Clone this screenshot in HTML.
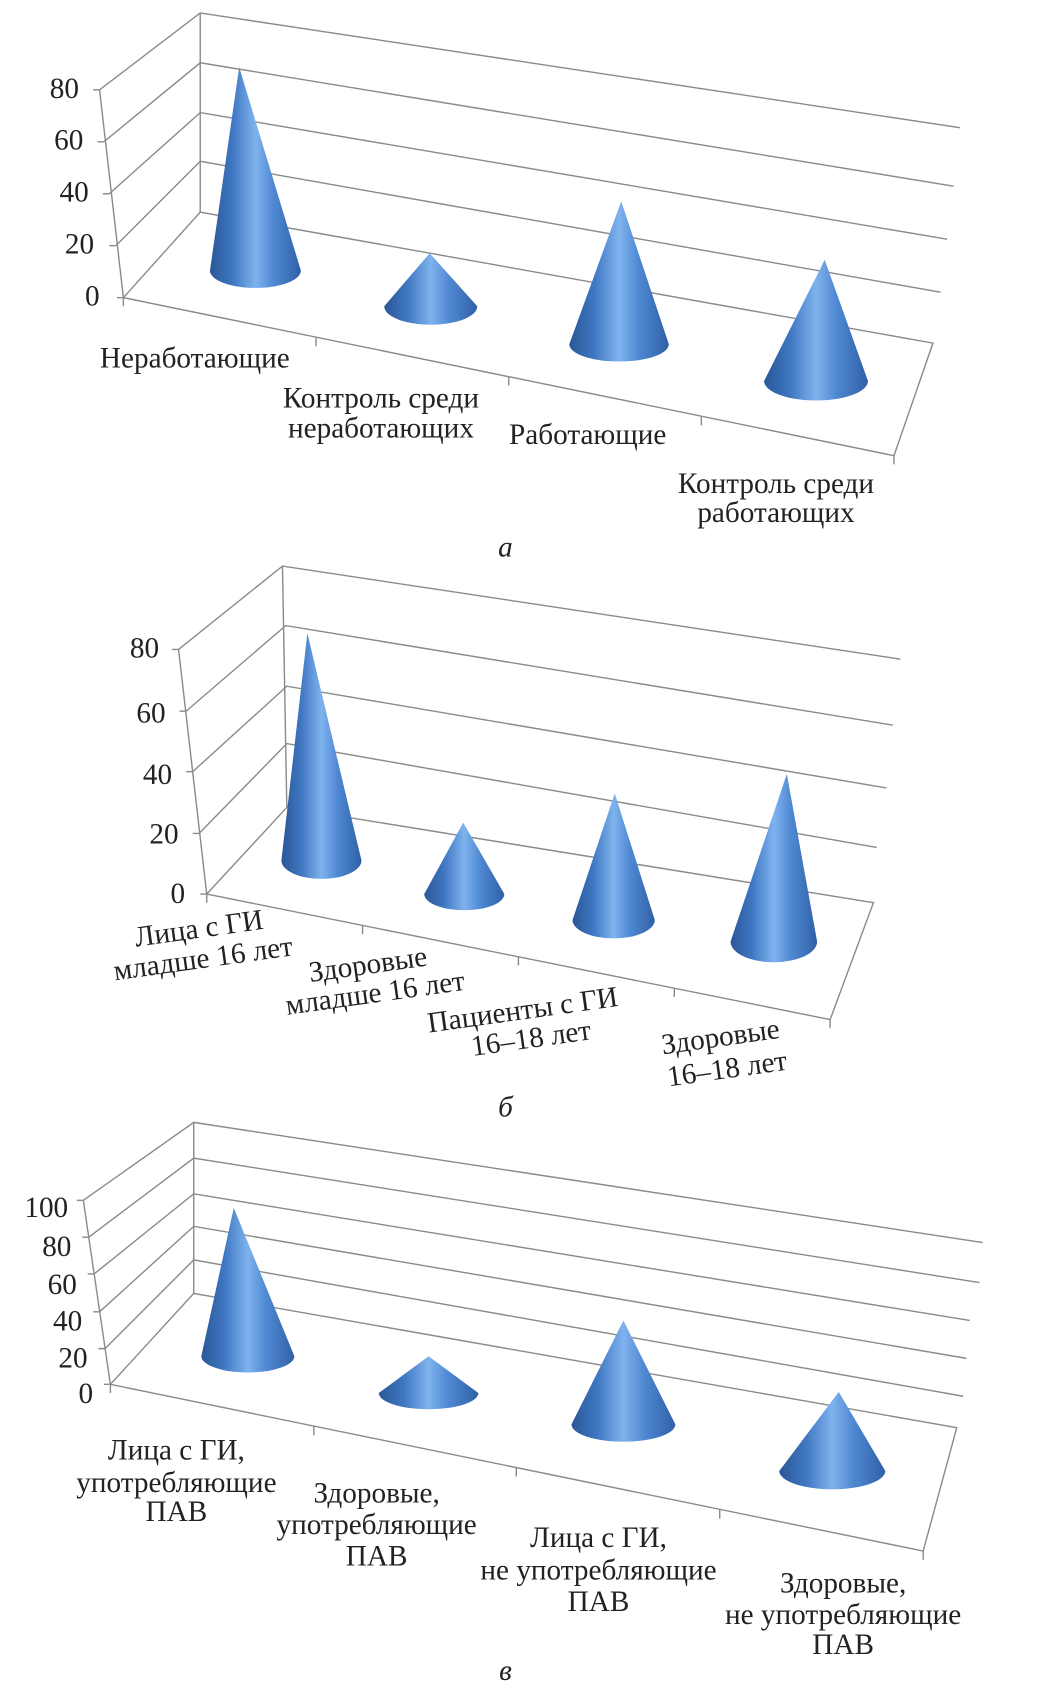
<!DOCTYPE html>
<html><head><meta charset="utf-8"><style>html,body{margin:0;padding:0;background:#fff}svg{display:block}</style></head>
<body>
<svg width="1039" height="1682" viewBox="0 0 960 1554" preserveAspectRatio="none" xmlns="http://www.w3.org/2000/svg">
<defs>
<linearGradient id="g" x1="0" y1="0" x2="1" y2="0">
<stop offset="0" stop-color="#2a5797"/><stop offset="0.25" stop-color="#3f77c2"/><stop offset="0.5" stop-color="#7fb3ee"/><stop offset="0.7" stop-color="#4f88d2"/><stop offset="1" stop-color="#2f60a6"/>
</linearGradient>
</defs>
<g stroke="#8a8a8a" stroke-width="1.3" fill="none">
<line x1="92" y1="83" x2="114" y2="275"/>
<line x1="185" y1="12" x2="185" y2="196"/>
<path d="M92 83 L185 12 L887 118 M96 131 L185 58 L881 172 M101 179 L185 104 L875 221 M107 227 L185 149 L869 270 M114 275 L185 196 L862 317 L826 421 L114 275"/>
<path d="M86 83h6 M90 131h6 M95 179h6 M101 227h6 M108 275h6"/>
<path d="M114 275v8 M292 312v8 M470 348v8 M648 385v8 M826 421v8"/>
<line x1="165" y1="600" x2="191" y2="826"/>
<line x1="261" y1="523" x2="265" y2="746"/>
<path d="M165 600 L261 523 L832 609 M172 657 L264 578 L825 670 M178 713 L265 634 L819 728 M184 770 L265 687 L810 783 M191 826 L265 746 L807 834 L767 942 L191 826"/>
<path d="M159 600h6 M166 657h6 M172 713h6 M178 770h6 M185 826h6"/>
<path d="M191 826v8 M335 855v8 M479 884v8 M623 913v8 M767 942v8"/>
<line x1="77" y1="1109" x2="102" y2="1279"/>
<line x1="179" y1="1037" x2="179" y2="1195"/>
<path d="M77 1109 L179 1037 L908 1148 M82 1143 L179 1070 L905 1185 M87 1177 L179 1103 L896 1220 M92 1212 L179 1133 L893 1255 M97 1246 L179 1164 L890 1290 M102 1279 L179 1195 L884 1319 L853 1433 L102 1279"/>
<path d="M71 1109h6 M76 1143h6 M81 1177h6 M86 1212h6 M91 1246h6 M96 1279h6"/>
<path d="M102 1279v8 M290 1318v8 M477 1356v8 M665 1395v8 M853 1433v8"/>
</g>
<g fill="url(#g)">
<path d="M194 250 A42 16 0 0 0 278 250 L221 62 Z"/>
<path d="M355 283 A43 17 0 0 0 441 283 L397 234 Z"/>
<path d="M526 318 A46 16 0 0 0 618 318 L574 186 Z"/>
<path d="M706 352 A48 18 0 0 0 802 352 L762 240 Z"/>
<path d="M260 795 A37 17 0 0 0 334 795 L284 585 Z"/>
<path d="M392 826 A37 15 0 0 0 466 826 L428 760 Z"/>
<path d="M529 850 A38 17 0 0 0 605 850 L568 733 Z"/>
<path d="M675 870 A40 19 0 0 0 755 870 L727 715 Z"/>
<path d="M186 1253 A43 15 0 0 0 272 1253 L216 1116 Z"/>
<path d="M350 1287 A46 15 0 0 0 442 1287 L396 1253 Z"/>
<path d="M528 1316 A48 16 0 0 0 624 1316 L576 1220 Z"/>
<path d="M720 1359 A49 17 0 0 0 818 1359 L775 1286 Z"/>
</g>
<g font-family="Liberation Serif, serif" font-size="27" fill="#222" dominant-baseline="central">
<g text-anchor="end">
<text x="73" y="82">80</text><text x="77" y="130">60</text><text x="82" y="178">40</text><text x="87" y="226">20</text><text x="92" y="274">0</text>
<text x="147" y="599">80</text><text x="153" y="659">60</text><text x="159" y="716">40</text><text x="165" y="771">20</text><text x="171" y="826">0</text>
<text x="63" y="1116">100</text><text x="66" y="1152">80</text><text x="71" y="1187">60</text><text x="76" y="1221">40</text><text x="81" y="1255">20</text><text x="86" y="1288">0</text>
</g>
<g text-anchor="middle">
<text x="180" y="331">Неработающие</text>
<text x="352" y="368">Контроль среди</text><text x="352" y="396">неработающих</text>
<text x="543" y="402">Работающие</text>
<text x="717" y="447">Контроль среди</text><text x="717" y="474">работающих</text>
<text x="467" y="506" font-style="italic">а</text>
<g transform="rotate(-8 186 874)"><text x="186" y="858">Лица с ГИ</text><text x="186" y="886">младше 16 лет</text></g>
<g transform="rotate(-8 344 906)"><text x="342" y="891">Здоровые</text><text x="345" y="918">младше 16 лет</text></g>
<g transform="rotate(-8 487 948)"><text x="485" y="933">Пациенты с ГИ</text><text x="489" y="960">16–18 лет</text></g>
<g transform="rotate(-8 669 975)"><text x="668" y="958">Здоровые</text><text x="670" y="988">16–18 лет</text></g>
<text x="467" y="1023" font-style="italic">б</text>
<text x="163" y="1340">Лица с ГИ,</text><text x="163" y="1370">употребляющие</text><text x="163" y="1397">ПАВ</text>
<text x="348" y="1380">Здоровые,</text><text x="348" y="1409">употребляющие</text><text x="348" y="1438">ПАВ</text>
<text x="553" y="1421">Лица с ГИ,</text><text x="553" y="1451">не употребляющие</text><text x="553" y="1480">ПАВ</text>
<text x="779" y="1463">Здоровые,</text><text x="779" y="1492">не употребляющие</text><text x="779" y="1520">ПАВ</text>
<text x="467" y="1544" font-style="italic">в</text>
</g>
</g>
</svg>
</body></html>
